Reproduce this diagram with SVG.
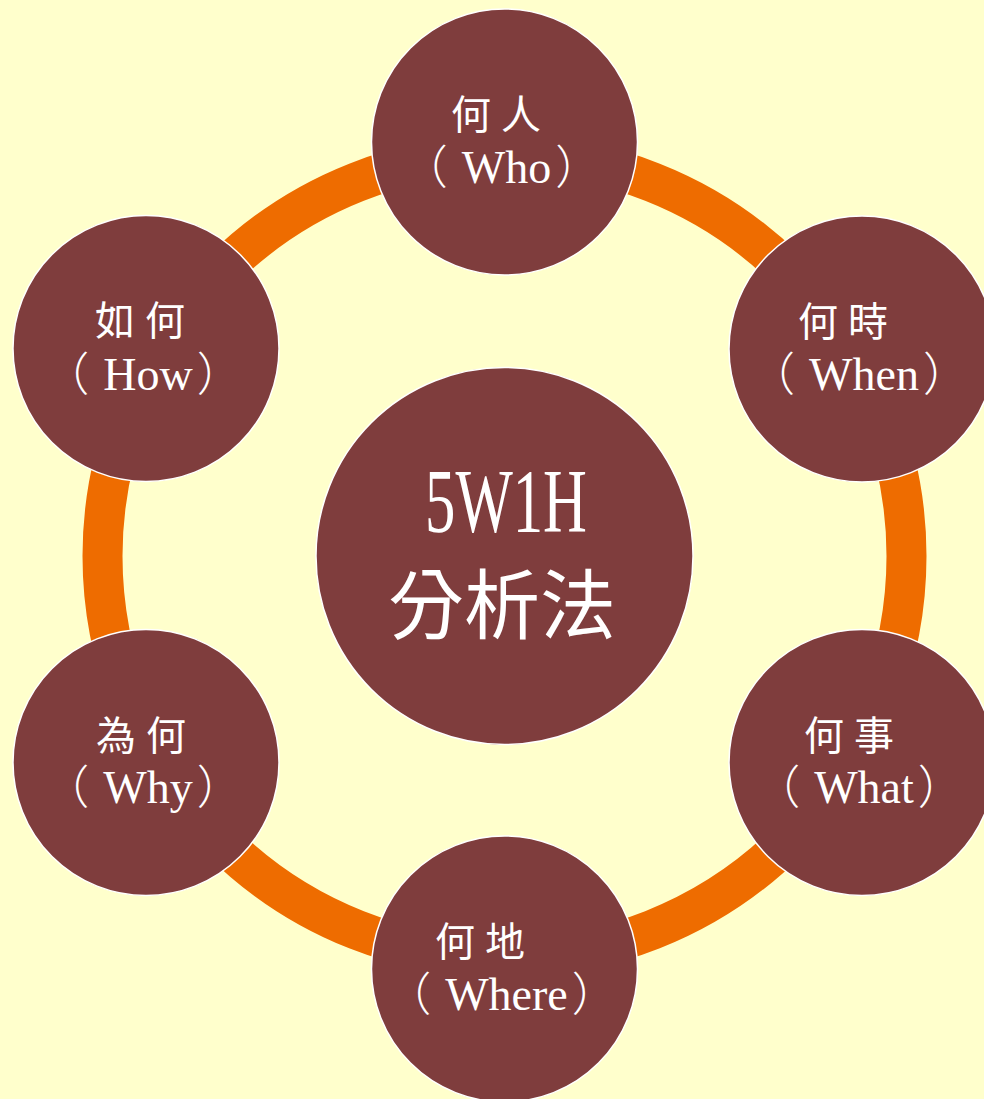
<svg xmlns="http://www.w3.org/2000/svg" width="984" height="1099" viewBox="0 0 984 1099">
<style>
.node{fill:#7F3D3D;stroke:#FFFFFF;stroke-width:1.5}
.cjk{font-family:"Noto Sans CJK TC","Noto Sans CJK SC",sans-serif;font-size:40px;fill:#FFFFFF;letter-spacing:10px}
.lat{font-family:"Liberation Serif","Noto Sans CJK TC",serif;font-size:46px;fill:#FFFFFF;text-anchor:middle}
.par{font-family:"Noto Sans CJK TC",sans-serif;font-weight:300}
</style>
<rect x="0" y="0" width="984" height="1099" fill="#FFFFCC"/>
<g id="connectors">
<circle cx="504.5" cy="556" r="402" fill="none" stroke="#EE6C00" stroke-width="40"/>
</g>
<g id="center">
<circle class="node" cx="504.5" cy="556" r="188.5"/>
<text x="506" y="532" font-family="Liberation Serif,serif" font-size="90" fill="#FFFFFF" text-anchor="middle" textLength="162" lengthAdjust="spacingAndGlyphs">5W1H</text>
<text x="502" y="633" font-family="Noto Sans CJK TC,Noto Sans CJK SC,sans-serif" font-size="76" fill="#FFFFFF" text-anchor="middle">分析法</text>
</g>
<g id="who">
<circle class="node" cx="504.5" cy="142" r="133"/>
<text class="cjk" x="451" y="129">何人</text>
<text class="lat" x="501.5" y="183"><tspan class="par">（</tspan><tspan dx="14">Who</tspan><tspan class="par" dx="4">）</tspan></text>
</g>
<g id="when">
<circle class="node" cx="862" cy="349" r="133"/>
<text class="cjk" x="798" y="336">何時</text>
<text class="lat" x="859" y="390"><tspan class="par">（</tspan><tspan dx="14">When</tspan><tspan class="par" dx="4">）</tspan></text>
</g>
<g id="what">
<circle class="node" cx="862" cy="762.5" r="133"/>
<text class="cjk" x="804" y="750">何事</text>
<text class="lat" x="859" y="803"><tspan class="par">（</tspan><tspan dx="14">What</tspan><tspan class="par" dx="4">）</tspan></text>
</g>
<g id="where">
<circle class="node" cx="504.5" cy="969" r="133"/>
<text class="cjk" x="435" y="956">何地</text>
<text class="lat" x="501.5" y="1010"><tspan class="par">（</tspan><tspan dx="14">Where</tspan><tspan class="par" dx="4">）</tspan></text>
</g>
<g id="why">
<circle class="node" cx="146" cy="762.5" r="133"/>
<text class="cjk" x="96" y="750">為何</text>
<text class="lat" x="143" y="803"><tspan class="par">（</tspan><tspan dx="14">Why</tspan><tspan class="par" dx="4">）</tspan></text>
</g>
<g id="how">
<circle class="node" cx="146" cy="348.5" r="133"/>
<text class="cjk" x="95" y="335">如何</text>
<text class="lat" x="143" y="390"><tspan class="par">（</tspan><tspan dx="14">How</tspan><tspan class="par" dx="4">）</tspan></text>
</g>
</svg>
